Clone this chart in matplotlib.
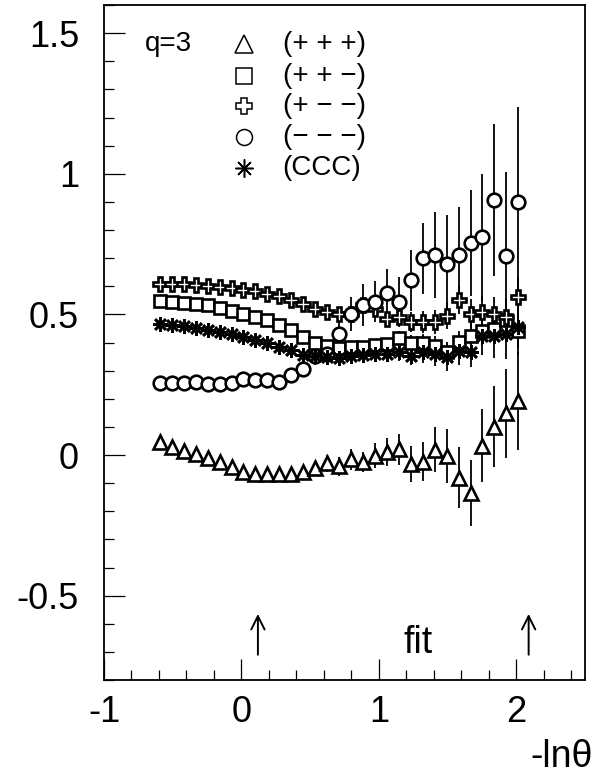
import numpy as np
import matplotlib
matplotlib.use("Agg")
import matplotlib.pyplot as plt
from matplotlib.ticker import MultipleLocator, FuncFormatter

plt.rcParams['font.family'] = ['Liberation Sans', 'DejaVu Sans']
plt.rcParams['axes.unicode_minus'] = False

# -ln(theta) bins
x = [-0.593, -0.506, -0.419, -0.332, -0.245, -0.158, -0.072, 0.015, 0.102, 0.189,
     0.276, 0.363, 0.450, 0.537, 0.624, 0.711, 0.797, 0.884, 0.971, 1.058,
     1.145, 1.232, 1.319, 1.406, 1.493, 1.580, 1.667, 1.753, 1.840, 1.927, 2.014]

# (+ + +)
ppp = [0.046, 0.030, 0.016, 0.004, -0.011, -0.026, -0.044, -0.062, -0.066, -0.066,
       -0.066, -0.066, -0.062, -0.047, -0.030, -0.040, -0.015, -0.024, -0.002, 0.010,
       0.020, -0.032, -0.023, 0.019, -0.005, -0.080, -0.136, 0.033, 0.101, 0.148, 0.192]
ppp_err = [0.008, 0.008, 0.009, 0.009, 0.010, 0.010, 0.011, 0.012, 0.013, 0.014,
           0.016, 0.020, 0.023, 0.026, 0.029, 0.033, 0.037, 0.036, 0.044, 0.049,
           0.056, 0.064, 0.071, 0.080, 0.096, 0.107, 0.117, 0.130, 0.143, 0.157, 0.175]

# (+ + -)
ppm = [0.547, 0.545, 0.542, 0.537, 0.532, 0.523, 0.514, 0.503, 0.491, 0.479,
       0.462, 0.443, 0.419, 0.398, 0.389, 0.380, 0.383, 0.383, 0.393, 0.395,
       0.417, 0.398, 0.398, 0.389, 0.365, 0.401, 0.425, 0.440, 0.450, 0.480, 0.440]
ppm_err = [0.006, 0.006, 0.006, 0.007, 0.007, 0.007, 0.008, 0.008, 0.009, 0.009,
           0.010, 0.011, 0.012, 0.013, 0.014, 0.015, 0.017, 0.019, 0.021, 0.023,
           0.025, 0.028, 0.031, 0.034, 0.037, 0.040, 0.044, 0.048, 0.052, 0.056, 0.060]

# (+ - -)
pmm = [0.610, 0.610, 0.607, 0.604, 0.602, 0.598, 0.594, 0.588, 0.582, 0.574,
       0.564, 0.552, 0.537, 0.520, 0.510, 0.500, 0.500, 0.532, 0.520, 0.485,
       0.490, 0.473, 0.473, 0.473, 0.493, 0.550, 0.500, 0.508, 0.500, 0.490, 0.562]
pmm_err = [0.005, 0.005, 0.006, 0.006, 0.006, 0.007, 0.007, 0.008, 0.008, 0.009,
           0.010, 0.011, 0.012, 0.014, 0.016, 0.018, 0.020, 0.023, 0.026, 0.029,
           0.032, 0.035, 0.038, 0.042, 0.046, 0.050, 0.054, 0.058, 0.062, 0.066, 0.070]

# (- - -)
mmm = [0.258, 0.258, 0.258, 0.261, 0.252, 0.252, 0.255, 0.270, 0.267, 0.267,
       0.261, 0.286, 0.305, 0.354, 0.360, 0.430, 0.502, 0.535, 0.546, 0.576,
       0.544, 0.621, 0.699, 0.711, 0.681, 0.713, 0.755, 0.774, 0.907, 0.707, 0.899]
mmm_err = [0.008, 0.009, 0.010, 0.011, 0.012, 0.013, 0.014, 0.016, 0.018, 0.020,
           0.022, 0.025, 0.028, 0.032, 0.038, 0.045, 0.060, 0.075, 0.072, 0.085,
           0.089, 0.108, 0.125, 0.154, 0.173, 0.168, 0.188, 0.226, 0.270, 0.300, 0.340]

# (CCC)
ccc = [0.467, 0.463, 0.458, 0.452, 0.445, 0.437, 0.431, 0.421, 0.410, 0.398,
       0.385, 0.372, 0.357, 0.354, 0.347, 0.345, 0.352, 0.356, 0.360, 0.360,
       0.365, 0.354, 0.365, 0.360, 0.348, 0.371, 0.365, 0.425, 0.425, 0.431, 0.455]
ccc_err = [0.005, 0.005, 0.006, 0.006, 0.006, 0.007, 0.007, 0.008, 0.008, 0.009,
           0.010, 0.011, 0.012, 0.013, 0.015, 0.017, 0.019, 0.021, 0.024, 0.027,
           0.030, 0.034, 0.038, 0.042, 0.048, 0.050, 0.053, 0.070, 0.080, 0.090, 0.100]

labels = ["(+ + +)", "(+ + \u2212)", "(+ \u2212 \u2212)", "(\u2212 \u2212 \u2212)", "(CCC)"]
markers = ['^', 's', 'P', 'o', (8, 2, 0)]
sizes = [10.0, 9.2, 10.0, 9.8, 10.8]
legend_sizes = [12.5, 11.5, 12, 11.5, 13]
series = [(ppp, ppp_err), (ppm, ppm_err), (pmm, pmm_err), (mmm, mmm_err), (ccc, ccc_err)]

fig = plt.figure(figsize=(5.96, 7.74), dpi=100)
ax = fig.add_axes([0.1745, 0.1214, 0.807, 0.872])

for (vals, errs), m, ms in zip(series, markers, sizes):
    ax.errorbar(x, vals, yerr=errs, fmt='none', ecolor='black', elinewidth=1.3,
                capsize=0, zorder=2)
    ax.plot(x, vals, linestyle='none', marker=m, markersize=ms, color='black',
            markerfacecolor='white', markeredgecolor='black', markeredgewidth=1.9,
            zorder=3)

# key
rows = [1.462, 1.349, 1.240, 1.130, 1.019]
for yk, m, ms, lab in zip(rows, markers, legend_sizes, labels):
    ax.plot([0.02], [yk], linestyle='none', marker=m, markersize=ms,
            markerfacecolor='white', markeredgecolor='black', markeredgewidth=1.1,
            zorder=4, clip_on=False)
    ax.text(0.30, yk, lab, fontsize=20, ha='left', va='center')
ax.text(-0.70, rows[0], "q=3", fontsize=20, ha='left', va='center')

# fit range
for xa in [0.12, 2.09]:
    ax.annotate("", xy=(xa, -0.565), xytext=(xa, -0.71),
                arrowprops=dict(arrowstyle='->', lw=1.4, color='black',
                                mutation_scale=24, shrinkA=0, shrinkB=0))
ax.text(1.18, -0.705, "fit", fontsize=27, ha='left', va='baseline')

ax.set_xlim(-1, 2.5)
ax.set_ylim(-0.8, 1.6)
ax.xaxis.set_major_locator(MultipleLocator(1))
ax.xaxis.set_minor_locator(MultipleLocator(0.2))
ax.yaxis.set_major_locator(MultipleLocator(0.5))
ax.yaxis.set_minor_locator(MultipleLocator(0.1))
fmt = FuncFormatter(lambda v, p: "%g" % round(v, 3))
ax.xaxis.set_major_formatter(fmt)
ax.yaxis.set_major_formatter(fmt)
ax.tick_params(which='both', direction='in', top=False, right=False, width=0.9)
ax.tick_params(which='major', length=15, labelsize=26)
ax.tick_params(which='minor', length=7.5)
ax.tick_params(axis='y', which='major', pad=18)
ax.tick_params(axis='x', which='major', pad=11)
for sp in ax.spines.values():
    sp.set_linewidth(1.3)

fig.text(593 / 596, 1 - 767 / 774, "-ln\u03b8", fontsize=27, ha='right', va='baseline')

fig.savefig("out.png", dpi=100)
